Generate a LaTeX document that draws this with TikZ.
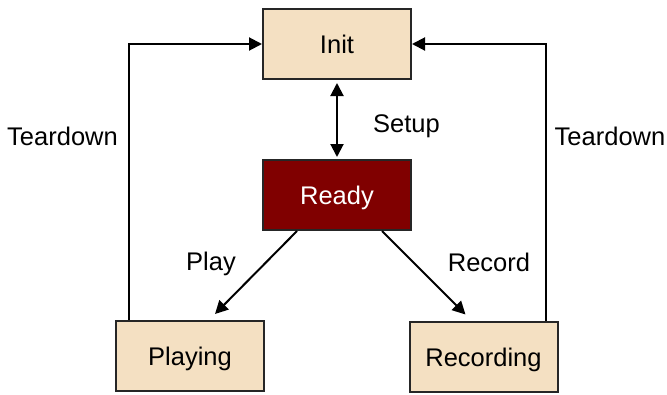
\documentclass[tikz,border=0pt]{standalone}
\usepackage{fontspec}
\setmainfont{Liberation Sans}
\usetikzlibrary{arrows.meta}
\definecolor{boxfill}{HTML}{F4E0C2}
\definecolor{readyfill}{HTML}{800000}
\begin{document}
\begin{tikzpicture}[x=1pt,y=-1pt,
  every node/.style={font=\fontsize{25.5}{30}\selectfont},
  state/.style={draw=black!85, line width=2pt, fill=boxfill, minimum width=148pt,
    minimum height=70pt, inner sep=0pt, text height=19pt, text depth=0pt},
  lbl/.style={anchor=base, inner sep=0pt},
  arr/.style={line width=2pt, -{Triangle[length=13pt,width=13pt]}},
  darr/.style={line width=2pt, {Triangle[length=13pt,width=13pt]}-{Triangle[length=13pt,width=13pt]}}]
\useasboundingbox (0,0) rectangle (667,394);

\node[state] (init) at (337,44) {Init};
\node[state, fill=readyfill, text=white] (ready) at (337,195) {Ready};
\node[state] (playing) at (190,356) {Playing};
\node[state] (recording) at (483.5,356.5) {Recording};

% transitions
\draw[darr, shorten <=3pt, shorten >=2pt] (init) -- (ready);
\draw[arr] ([xshift=35pt]ready.south west) -- ([xshift=25pt,yshift=6pt]playing.north);
\draw[arr] ([xshift=-30pt]ready.south east) -- ([xshift=-18pt,yshift=6pt]recording.north);
\draw[arr] ([xshift=14pt]playing.north west) |- (init.west);
\draw[arr] ([xshift=-13pt]recording.north east) |- (init.east);

% labels
\node[lbl] (tdl) at (62.5,145) {Teardown};
\node[lbl] (tdr) at (610,145) {Teardown};
\node[lbl] (setup) at (406.5,132) {Setup};
\node[lbl] (play) at (211,270) {Play};
\node[lbl] (record) at (489,271) {Record};
\end{tikzpicture}
\end{document}
